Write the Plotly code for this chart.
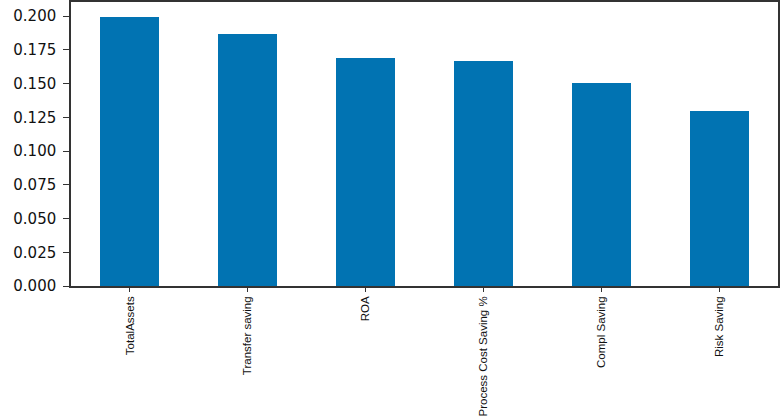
import plotly.graph_objects as go

categories = ["TotalAssets", "Transfer saving", "ROA", "Process Cost Saving %", "Compl Saving", "Risk Saving"]
values = [0.1995, 0.1866, 0.1690, 0.1666, 0.1505, 0.1298]
y_ticks = [0.0, 0.025, 0.05, 0.075, 0.1, 0.125, 0.15, 0.175, 0.2]
y_tick_labels = ["0.000", "0.025", "0.050", "0.075", "0.100", "0.125", "0.150", "0.175", "0.200"]

fig = go.Figure(go.Bar(
    x=categories, y=values,
    marker=dict(color="#0173B2", line=dict(width=0)),
    width=0.5,
))

fig.update_layout(
    width=782, height=416,
    margin=dict(l=71, r=4, t=2, b=130, autoexpand=False),
    plot_bgcolor="white", paper_bgcolor="white",
    showlegend=False,
    bargap=0,
)
fig.update_xaxes(
    range=[-0.5, 5.5], automargin=False,
    showline=True, linecolor="#333333", linewidth=1.5, mirror=True,
    ticks="outside", ticklen=4, tickcolor="#333333",
    tickangle=-90,
    tickfont=dict(family="Liberation Sans", size=11.5, color="#111111"),
    showgrid=False,
)
fig.update_yaxes(
    range=[0, 0.2105], automargin=False,
    tickvals=y_ticks, ticktext=y_tick_labels,
    showline=True, linecolor="#333333", linewidth=1.5, mirror=True,
    ticks="outside", ticklen=6, tickcolor="#333333", ticklabelstandoff=4,
    tickfont=dict(family="DejaVu Sans", size=15, color="#111111"),
    showgrid=False, zeroline=False,
)

fig.write_html(
    "out.html",
    config={"displayModeBar": False},
    post_script="document.body.style.margin='0';document.body.style.overflow='hidden';",
)
